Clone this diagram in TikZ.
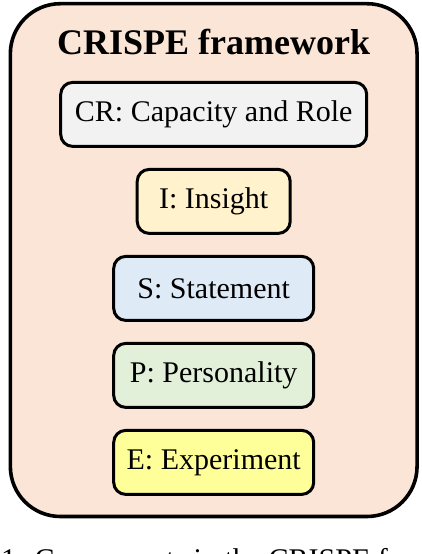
\documentclass[tikz,border=0pt]{standalone}
\usepackage{fontspec}
\setmainfont{Liberation Serif}
\definecolor{framepeach}{HTML}{FBE5D6}
\definecolor{crgray}{HTML}{F2F2F2}
\definecolor{insightcream}{HTML}{FFF2CC}
\definecolor{statementblue}{HTML}{DEEBF7}
\definecolor{personalitygreen}{HTML}{E2F0D9}
\definecolor{experimentyellow}{HTML}{FFFF99}
\usetikzlibrary{positioning}

\begin{document}
\begin{tikzpicture}[
      frame/.style={draw=black, line width=3.6pt, rounded corners=50pt, fill=framepeach,
                    minimum width=406.7pt, minimum height=512.8pt, inner sep=0pt},
      headline/.style={font=\fontsize{36}{40}\selectfont\bfseries, inner sep=0pt},
      part/.style={draw=black, line width=3pt, rounded corners=12pt,
                   minimum height=64pt, align=center, inner sep=0pt,
                   font=\fontsize{30}{34}\selectfont},
      caption/.style={font=\fontsize{30}{34}\selectfont, inner sep=0pt}
    ]
    \clip (0,0) rectangle (422pt,554pt);
    \node[frame] (crispe) at (213.7pt,293.9pt) {};
    \node[headline, anchor=base] (title) at ([yshift=-53pt]crispe.north) {CRISPE framework};
    \node[part, fill=crgray, minimum width=306pt, below=79pt of crispe.north] (cr) {CR: Capacity and Role};
    \node[part, fill=insightcream, minimum width=153pt, below=20pt of cr] (ins) {I: Insight};
    \node[part, fill=statementblue, minimum width=200pt, below=20pt of ins] (stm) {S: Statement};
    \node[part, fill=personalitygreen, minimum width=200pt, below=20pt of stm] (pers) {P: Personality};
    \node[part, fill=experimentyellow, minimum width=200pt, below=20pt of pers] (exp) {E: Experiment};
    \node[caption, anchor=base west] (cap) at (1pt,-16pt) {1: Components in the CRISPE f};
  \end{tikzpicture}
\end{document}
